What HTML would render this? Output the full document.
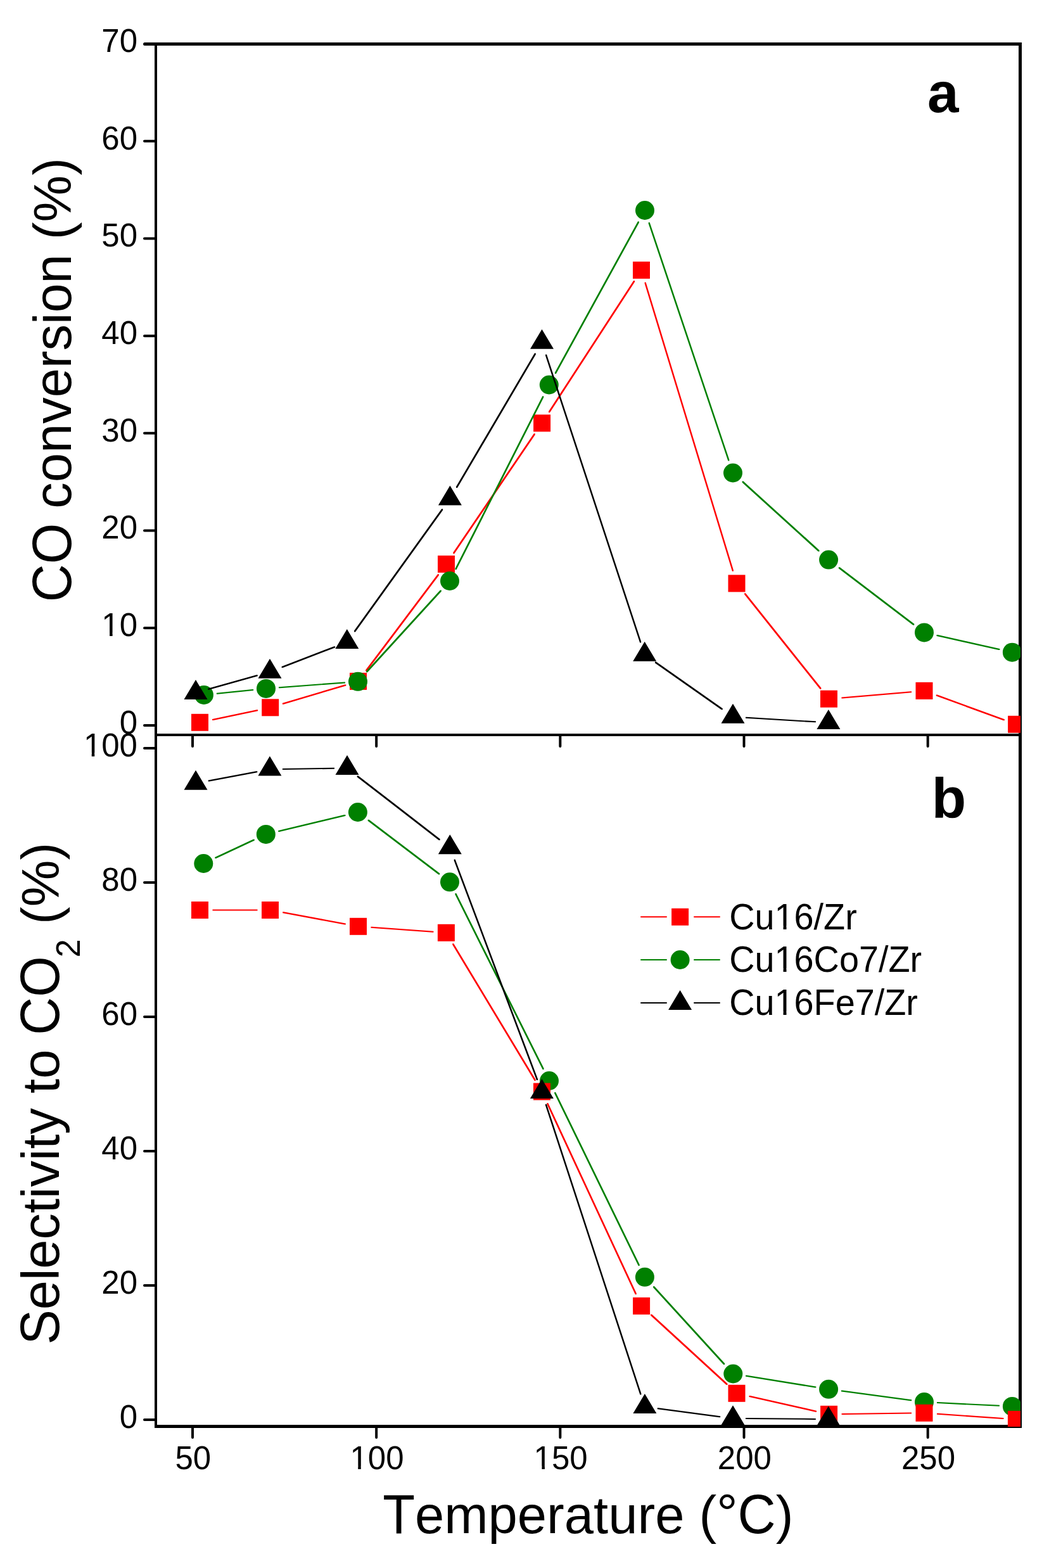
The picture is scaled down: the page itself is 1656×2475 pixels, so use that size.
<!DOCTYPE html>
<html><head><meta charset="utf-8"><title>CO conversion and selectivity</title><style>html,body{margin:0;padding:0;background:#fff;overflow:hidden}svg{display:block}</style></head><body>
<svg width="1656" height="2475" viewBox="0 0 1656 2475">
<defs><clipPath id="ca"><rect x="246" y="69.5" width="1365" height="1090.5"/></clipPath><clipPath id="cb"><rect x="246" y="1160" width="1365" height="1092"/></clipPath></defs>
<rect width="1656" height="2475" fill="#fff"/>
<g fill="#000" shape-rendering="crispEdges"><rect x="244" y="67" width="4" height="2187"/><rect x="1608" y="67" width="5" height="2187"/><rect x="228" y="67" width="1385" height="5"/><rect x="248" y="1158" width="1360" height="4"/><rect x="244" y="2249" width="1369" height="5"/></g>
<path d="M228 1145H244M228 991.29H244M228 837.58H244M228 683.87H244M228 530.16H244M228 376.45H244M228 222.74H244M228 2241H244M228 2029H244M228 1817H244M228 1605H244M228 1393H244M228 1181H244M304 1160V1178M304 2252V2269M594.17 1160V1178M594.17 2252V2269M884.34 1160V1178M884.34 2252V2269M1174.51 1160V1178M1174.51 2252V2269M1464.68 1160V1178M1464.68 2252V2269" stroke="#000" stroke-width="4" stroke-linecap="round" fill="none"/>
<path d="M228.5 69.5H236" stroke="#000" stroke-width="5" stroke-linecap="round" fill="none"/>
<defs><clipPath id="k0"><path clip-rule="evenodd" d="M-76.728 -61.2H20V25.5H-76.728ZM-54.737 -5.11H-43.903V2H-54.737ZM-39.396 -5.11H-28.835V2H-39.396Z"/></clipPath><clipPath id="k1"><path clip-rule="evenodd" d="M-105.091 -61.2H20V25.5H-105.091ZM-83.101 -5.11H-72.267V2H-83.101ZM-67.759 -5.11H-57.199V2H-67.759Z"/></clipPath><clipPath id="k2"><path clip-rule="evenodd" d="M-62.546 -61.2H62.546V25.5H-62.546ZM-40.555 -5.11H-29.721V2H-40.555ZM-25.214 -5.11H-14.653V2H-25.214Z"/></clipPath><clipPath id="k3"><path clip-rule="evenodd" d="M-62.546 -61.2H62.546V25.5H-62.546ZM-40.555 -5.11H-29.721V2H-40.555ZM-25.214 -5.11H-14.653V2H-25.214Z"/></clipPath><clipPath id="k4"><path clip-rule="evenodd" d="M-20 -66.96H221.567V27.9H-20ZM73.555 -5.469H85.362V2H73.555ZM90.294 -5.469H101.801V2H90.294Z"/></clipPath><clipPath id="k5"><path clip-rule="evenodd" d="M-20 -66.96H323.93V27.9H-20ZM73.555 -5.469H85.362V2H73.555ZM90.294 -5.469H101.801V2H90.294Z"/></clipPath><clipPath id="k6"><path clip-rule="evenodd" d="M-20 -66.96H317.718V27.9H-20ZM73.555 -5.469H85.362V2H73.555ZM90.294 -5.469H101.801V2H90.294Z"/></clipPath></defs>
<g font-family="'Liberation Sans', Arial, sans-serif" fill="#000" style="font-kerning:none"><text transform="translate(217 1157.9) scale(1 1.025)" font-size="51" text-anchor="end">0</text>
<text transform="translate(217 1004.19) scale(1 1.025)" x="-56.728" font-size="51" clip-path="url(#k0)">10</text>
<text transform="translate(217 850.48) scale(1 1.025)" font-size="51" text-anchor="end">20</text>
<text transform="translate(217 696.77) scale(1 1.025)" font-size="51" text-anchor="end">30</text>
<text transform="translate(217 543.06) scale(1 1.025)" font-size="51" text-anchor="end">40</text>
<text transform="translate(217 389.35) scale(1 1.025)" font-size="51" text-anchor="end">50</text>
<text transform="translate(217 235.64) scale(1 1.025)" font-size="51" text-anchor="end">60</text>
<text transform="translate(217 81.93) scale(1 1.025)" font-size="51" text-anchor="end">70</text>
<text transform="translate(217 2253.5) scale(1 1.025)" font-size="51" text-anchor="end">0</text>
<text transform="translate(217 2041.5) scale(1 1.025)" font-size="51" text-anchor="end">20</text>
<text transform="translate(217 1829.5) scale(1 1.025)" font-size="51" text-anchor="end">40</text>
<text transform="translate(217 1617.5) scale(1 1.025)" font-size="51" text-anchor="end">60</text>
<text transform="translate(217 1405.5) scale(1 1.025)" font-size="51" text-anchor="end">80</text>
<text transform="translate(217 1193.5) scale(1 1.025)" x="-85.091" font-size="51" clip-path="url(#k1)">100</text>
<text transform="translate(304.8 2319.4) scale(1 1.025)" font-size="51" text-anchor="middle">50</text>
<text transform="translate(594.97 2319.4) scale(1 1.025)" x="-42.546" font-size="51" clip-path="url(#k2)">100</text>
<text transform="translate(885.14 2319.4) scale(1 1.025)" x="-42.546" font-size="51" clip-path="url(#k3)">150</text>
<text transform="translate(1175.31 2319.4) scale(1 1.025)" font-size="51" text-anchor="middle">200</text>
<text transform="translate(1465.48 2319.4) scale(1 1.025)" font-size="51" text-anchor="middle">250</text>
<text transform="translate(112 950.2) rotate(-90) scale(1 1.042)" font-size="83">CO</text>
<text transform="translate(112 802.64) rotate(-90)" font-size="83">conversion (%)</text>
<text transform="translate(93 2122.6) rotate(-90) scale(1 1.042)" font-size="83">S</text>
<text transform="translate(93 2067.24) rotate(-90)" font-size="83">electivity to</text>
<text transform="translate(93 1633.638) rotate(-90) scale(1 1.042)" font-size="83">CO</text>
<text transform="translate(126 1511.3) rotate(-90) scale(1 1.025)" font-size="52">2</text>
<text transform="translate(93 1458.9) rotate(-90)" font-size="83">(%)</text>
<text transform="translate(604.2 2419.7) scale(1 1.042)" font-size="83.2">T</text>
<text transform="translate(655.022 2419.7)" font-size="83.2">emperature (</text>
<text transform="translate(1131.309 2416.7)" font-size="83.2">&#176;</text>
<text transform="translate(1164.581 2419.7) scale(1 1.042)" font-size="83.2">C</text>
<text transform="translate(1224.666 2419.7)" font-size="83.2">)</text>
<text transform="translate(1464.1 177)" font-size="89" font-weight="bold">a</text>
<text transform="translate(1470.7 1290.8)" font-size="89" font-weight="bold">b</text>
<text transform="translate(1151.2 1467) scale(1 1.02)" x="0" font-size="55.8" clip-path="url(#k4)">Cu16/Zr</text>
<text transform="translate(1151.2 1534.1) scale(1 1.02)" x="0" font-size="55.8" clip-path="url(#k5)">Cu16Co7/Zr</text>
<text transform="translate(1151.2 1602.4) scale(1 1.02)" x="0" font-size="55.8" clip-path="url(#k6)">Cu16Fe7/Zr</text></g>
<g clip-path="url(#ca)">
<path d="M335.05 1134.96L405.15 1120.14L407.15 1120.14L407.15 1122.14L337.05 1136.96L335.05 1136.96ZM445.82 1109.8L544.38 1080.4L546.38 1080.4L546.38 1082.4L447.82 1111.8L445.82 1111.8ZM577.11 1057.61L690.89 906.19L692.89 906.19L692.89 908.19L579.11 1059.61L577.11 1059.61ZM715.3 872.03L842.8 684.27L844.8 684.27L844.8 686.27L717.3 874.03L715.3 874.03ZM866.04 649.29L1000.06 443.01L1002.06 443.01L1002.06 445.01L868.04 651.29L866.04 651.29ZM1017.61 445.49L1019.61 445.49L1157.89 899.81L1157.89 901.81L1155.89 901.81L1017.61 447.49ZM1175.1 936.31L1177.1 936.31L1296.4 1085.79L1296.4 1087.79L1294.4 1087.79L1175.1 938.31ZM1328.42 1100.42L1437.08 1091.18L1439.08 1091.18L1439.08 1093.18L1330.42 1102.42L1328.42 1102.42ZM1477.74 1096.57L1479.74 1096.57L1585.86 1135.13L1585.86 1137.13L1583.86 1137.13L1477.74 1098.57Z" fill="#ff0000"/>
<g fill="#ff0000"><rect x="302" y="1126.8" width="27" height="27"/><rect x="413.2" y="1103.3" width="27" height="27"/><rect x="552" y="1061.9" width="27" height="27"/><rect x="691" y="876.9" width="27" height="27"/><rect x="842.1" y="654.4" width="27" height="27"/><rect x="999" y="412.9" width="27" height="27"/><rect x="1149.5" y="907.4" width="27" height="27"/><rect x="1295" y="1089.7" width="27" height="27"/><rect x="1445.5" y="1076.9" width="27" height="27"/><rect x="1591.1" y="1129.8" width="27" height="27"/></g>
<path d="M341.79 1093.77L398.11 1088.03L400.11 1088.03L400.11 1090.03L343.79 1095.77L341.79 1095.77ZM439.94 1084.3L543.06 1076.4L545.06 1076.4L545.06 1078.4L441.94 1086.3L439.94 1086.3ZM578.16 1059.29L694.84 931.51L696.84 931.51L696.84 933.51L580.16 1061.29L578.16 1061.29ZM718.49 897.27L856.31 625.23L858.31 625.23L858.31 627.23L720.49 899.27L718.49 899.27ZM875.9 588.09L1006.9 349.41L1008.9 349.41L1008.9 351.41L877.9 590.09L875.9 590.09ZM1023.68 350.91L1025.68 350.91L1151.32 725.59L1151.32 727.59L1149.32 727.59L1023.68 352.91ZM1171.55 759.61L1173.55 759.61L1293.55 868.49L1293.55 870.49L1291.55 870.49L1171.55 761.61ZM1323.81 895.31L1325.81 895.31L1443.29 984.69L1443.29 986.69L1441.29 986.69L1323.81 897.31ZM1478.49 1002.02L1480.49 1002.02L1578.41 1024.08L1578.41 1026.08L1576.41 1026.08L1478.49 1004.02Z" fill="#008000"/>
<g fill="#008000"><circle cx="321.9" cy="1096.9" r="15"/><circle cx="420" cy="1086.9" r="15"/><circle cx="565" cy="1075.8" r="15"/><circle cx="710" cy="917" r="15"/><circle cx="866.8" cy="607.5" r="15"/><circle cx="1018" cy="332" r="15"/><circle cx="1157" cy="746.5" r="15"/><circle cx="1308.1" cy="883.6" r="15"/><circle cx="1459" cy="998.4" r="15"/><circle cx="1597.9" cy="1029.7" r="15"/></g>
<path d="M328.21 1086.85L404.79 1065.18L406.79 1065.18L406.79 1067.18L330.21 1088.85L328.21 1088.85ZM444.6 1051.93L527.2 1020.2L529.2 1020.2L529.2 1022.2L446.6 1053.93L444.6 1053.93ZM559.05 995.61L697.15 803.23L699.15 803.23L699.15 805.23L561.05 997.61L559.05 997.61ZM720.05 768.07L843.85 557.57L845.85 557.57L845.85 559.57L722.05 770.07L720.05 770.07ZM861.06 559.41L863.06 559.41L1012.14 1012.52L1012.14 1014.52L1010.14 1014.52L861.06 561.41ZM1033.88 1044.54L1035.88 1044.54L1140.82 1118.29L1140.82 1120.29L1138.82 1120.29L1033.88 1046.54ZM1176.96 1131.66L1178.96 1131.66L1287.94 1138.37L1287.94 1140.37L1285.94 1140.37L1176.96 1133.66Z" fill="#000000"/>
<g fill="#000000"><path d="M309 1072.9L327.5 1103.9L290.5 1103.9Z"/><path d="M426 1039.8L444.5 1070.8L407.5 1070.8Z"/><path d="M547.8 993L566.3 1024L529.3 1024Z"/><path d="M710.4 766.5L728.9 797.5L691.9 797.5Z"/><path d="M855.5 519.8L874 550.8L837 550.8Z"/><path d="M1017.7 1012.8L1036.2 1043.8L999.2 1043.8Z"/><path d="M1157 1110.7L1175.5 1141.7L1138.5 1141.7Z"/><path d="M1307.9 1120L1326.4 1151L1289.4 1151Z"/></g>
</g>
<g clip-path="url(#cb)">
<path d="M339.32 1353.1L399.78 1324.8L401.78 1324.8L401.78 1326.8L341.32 1355.1L339.32 1355.1ZM439.22 1310.99L543.48 1285.91L545.48 1285.91L545.48 1287.91L441.22 1312.99L439.22 1312.99ZM580.62 1293.71L582.62 1293.71L694.28 1378.59L694.28 1380.59L692.28 1380.59L580.62 1295.71ZM718.4 1410.08L720.4 1410.08L858.6 1686.22L858.6 1688.22L856.6 1688.22L718.4 1412.08ZM875.2 1723.88L877.2 1723.88L1009.7 1995.92L1009.7 1997.92L1007.7 1997.92L875.2 1725.88ZM1031.06 2030.31L1033.06 2030.31L1144.14 2151.99L1144.14 2153.99L1142.14 2153.99L1031.06 2032.31ZM1177.03 2170.84L1179.03 2170.84L1288.37 2188.46L1288.37 2190.46L1286.37 2190.46L1177.03 2172.84ZM1327.91 2194.59L1329.91 2194.59L1439.19 2209.21L1439.19 2211.21L1437.19 2211.21L1327.91 2196.59ZM1478.97 2213.04L1480.97 2213.04L1577.93 2217.86L1577.93 2219.86L1575.93 2219.86L1478.97 2215.04Z" fill="#008000"/>
<g fill="#008000"><circle cx="321.3" cy="1363" r="15"/><circle cx="419.8" cy="1316.9" r="15"/><circle cx="564.9" cy="1282" r="15"/><circle cx="710" cy="1392.3" r="15"/><circle cx="867" cy="1706" r="15"/><circle cx="1017.9" cy="2015.8" r="15"/><circle cx="1157.3" cy="2168.5" r="15"/><circle cx="1308.1" cy="2192.8" r="15"/><circle cx="1459" cy="2213" r="15"/><circle cx="1597.9" cy="2219.9" r="15"/></g>
<path d="M335.5 1435.5L406.5 1435.5L406.5 1437.5L335.5 1437.5ZM446.15 1439.33L448.15 1439.33L545.85 1457.47L545.85 1459.47L543.85 1459.47L446.15 1441.33ZM585.45 1462.81L587.45 1462.81L684.45 1469.79L684.45 1471.79L682.45 1471.79L585.45 1464.81ZM714.24 1489.29L716.24 1489.29L845.66 1704.01L845.66 1706.01L843.66 1706.01L714.24 1491.29ZM863.34 1741.05L865.34 1741.05L1004.76 2041.35L1004.76 2043.35L1002.76 2043.35L863.34 1743.05ZM1027.08 2074.59L1029.08 2074.59L1148.52 2184.11L1148.52 2186.11L1146.52 2186.11L1027.08 2076.59ZM1182.48 2202.94L1184.48 2202.94L1289.12 2226.66L1289.12 2228.66L1287.12 2228.66L1182.48 2204.94ZM1328.6 2231.02L1437 2229.58L1439 2229.58L1439 2231.58L1330.6 2233.02L1328.6 2233.02ZM1478.95 2230.76L1480.95 2230.76L1584.45 2237.94L1584.45 2239.94L1582.45 2239.94L1478.95 2232.76Z" fill="#ff0000"/>
<g fill="#ff0000"><rect x="302" y="1423" width="27" height="27"/><rect x="413" y="1423" width="27" height="27"/><rect x="552" y="1448.8" width="27" height="27"/><rect x="690.9" y="1458.8" width="27" height="27"/><rect x="842" y="1709.5" width="27" height="27"/><rect x="999.1" y="2047.9" width="27" height="27"/><rect x="1149.5" y="2185.8" width="27" height="27"/><rect x="1295.1" y="2218.8" width="27" height="27"/><rect x="1445.5" y="2216.8" width="27" height="27"/><rect x="1590.9" y="2226.9" width="27" height="27"/></g>
<path d="M328.63 1231.55L404.27 1217.18L406.27 1217.18L406.27 1219.18L330.63 1233.55L328.63 1233.55ZM445.9 1212.97L526 1211.86L528 1211.86L528 1213.86L447.9 1214.97L445.9 1214.97ZM563.62 1224.41L565.62 1224.41L694.68 1324.13L694.68 1326.13L692.68 1326.13L563.62 1226.41ZM716.69 1356.62L718.69 1356.62L849.01 1703.01L849.01 1705.01L847.01 1705.01L716.69 1358.62ZM860.93 1742.63L862.93 1742.63L1012.37 2199.61L1012.37 2201.61L1010.37 2201.61L860.93 1744.63ZM1037.72 2222.31L1039.72 2222.31L1137.18 2235.13L1137.18 2237.13L1135.18 2237.13L1037.72 2224.31ZM1177 2238.05L1179 2238.05L1287.8 2238.99L1287.8 2240.99L1285.8 2240.99L1177 2240.05Z" fill="#000000"/>
<g fill="#000000"><path d="M309 1215.8L327.5 1246.8L290.5 1246.8Z"/><path d="M425.9 1193.6L444.4 1224.6L407.4 1224.6Z"/><path d="M548 1191.9L566.5 1222.9L529.5 1222.9Z"/><path d="M710.3 1317.3L728.8 1348.3L691.8 1348.3Z"/><path d="M855.4 1703L873.9 1734L836.9 1734Z"/><path d="M1017.9 2199.9L1036.4 2230.9L999.4 2230.9Z"/><path d="M1157 2218.2L1175.5 2249.2L1138.5 2249.2Z"/><path d="M1307.8 2219.5L1326.3 2250.5L1289.3 2250.5Z"/></g>
</g>
<path d="M1012 1447.3H1052M1096 1447.3H1136" stroke="#ff0000" stroke-width="2" stroke-linecap="round" fill="none"/><g fill="#ff0000"><rect x="1060.1" y="1433.8" width="27" height="27"/></g><path d="M1012 1515H1052M1096 1515H1136" stroke="#008000" stroke-width="2" stroke-linecap="round" fill="none"/><g fill="#008000"><circle cx="1073.6" cy="1515" r="15"/></g><path d="M1012 1583H1052M1096 1583H1136" stroke="#000000" stroke-width="2" stroke-linecap="round" fill="none"/><g fill="#000000"><path d="M1073.6 1562.933L1092.1 1593.933L1055.1 1593.933Z"/></g>
</svg>
</body></html>
